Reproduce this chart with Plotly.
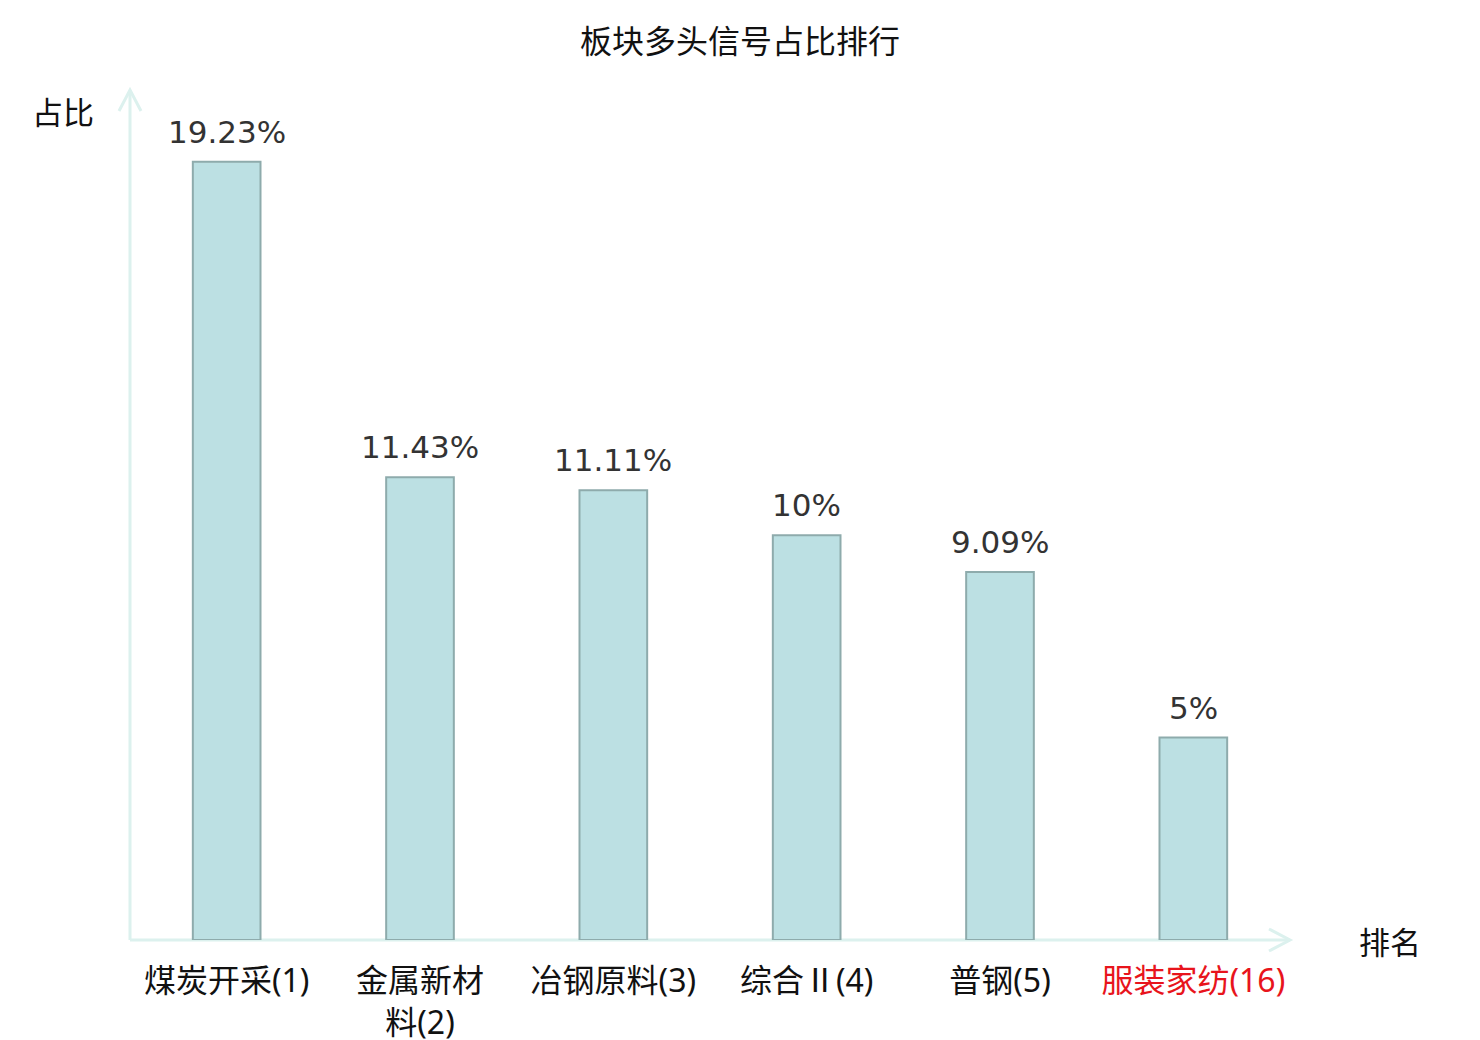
import plotly.graph_objects as go

categories = ["煤炭开采(1)", "金属新材<br>料(2)", "冶钢原料(3)", "综合Ⅱ(4)", "普钢(5)", "服装家纺(16)"]
values = [19.23, 11.43, 11.11, 10.0, 9.09, 5.0]
value_labels = ["19.23%", "11.43%", "11.11%", "10%", "9.09%", "5%"]
highlight = [False, False, False, False, False, True]

W, H = 1480, 1040
OFF = 8  # page body margin
ML, MR, MT, MB = 130 - OFF, 190 + OFF, 90 - OFF, 100 + OFF
PW, PH = W - ML - MR, H - MT - MB

ticktext = [
    f"<span style='color:#e8141c'>{c}</span>" if h else c
    for c, h in zip(categories, highlight)
]
xs = list(range(len(categories)))

fig = go.Figure(
    go.Bar(
        x=xs,
        y=values,
        width=0.35,
        marker=dict(color="#bce0e3", line=dict(color="#8eabac", width=2)),
        hoverinfo="skip",
    )
)

for xi, v, lab in zip(xs, values, value_labels):
    fig.add_annotation(x=xi, y=v, text=lab, showarrow=False,
                       xanchor="center", yanchor="bottom", yshift=10,
                       font=dict(family="DejaVu Sans", size=31, color="#333333"))

axis_color = "#dcf1ee"
fig.update_layout(
    width=W,
    height=H,
    margin=dict(l=ML, r=MR, t=MT, b=MB, autoexpand=False),
    plot_bgcolor="white",
    paper_bgcolor="white",
    showlegend=False,
    title=dict(
        text="板块多头信号占比排行",
        x=(740 - OFF) / W,
        xref="container",
        xanchor="center",
        y=1 - (42 - OFF) / H,
        yref="container",
        yanchor="middle",
        font=dict(family="Noto Sans CJK SC", size=32, color="#111111"),
    ),
    font=dict(family="Noto Sans CJK SC"),
    xaxis=dict(
        range=[-0.5, len(categories) - 0.5],
        tickvals=xs,
        ticktext=ticktext,
        showgrid=False,
        zeroline=False,
        showline=False,
        ticks="",
        automargin=False,
        ticklabelstandoff=19,
        tickfont=dict(family="Noto Sans, Noto Sans CJK SC", size=32, color="#111111"),
        fixedrange=True,
    ),
    yaxis=dict(
        range=[0, 21],
        showgrid=False,
        zeroline=False,
        showline=False,
        showticklabels=False,
        ticks="",
        automargin=False,
        fixedrange=True,
    ),
)

ax = 21 / PW
ay = 11 / PH
bx = 11 / PW
by = 21 / PH
line = dict(color=axis_color, width=3)
fig.add_shape(type="line", xref="paper", yref="paper", x0=0, y0=0, x1=1, y1=0, line=line, layer="below")
fig.add_shape(type="line", xref="paper", yref="paper", x0=0, y0=0, x1=0, y1=1, line=line, layer="below")
fig.add_shape(type="path", xref="paper", yref="paper",
              path=f"M {1-ax},{ay} L 1,0 L {1-ax},{-ay}", line=line)
fig.add_shape(type="path", xref="paper", yref="paper",
              path=f"M {-bx},{1-by} L 0,1 L {bx},{1-by}", line=line)

fig.add_annotation(text="占比", xref="paper", yref="paper",
                   x=(63 - 130) / PW, y=(940 - 110) / PH,
                   showarrow=False, xanchor="center", yanchor="middle",
                   font=dict(family="Noto Sans CJK SC", size=31, color="#111111"))
fig.add_annotation(text="排名", xref="paper", yref="paper",
                   x=(1390 - 130) / PW, y=0,
                   showarrow=False, xanchor="center", yanchor="middle",
                   font=dict(family="Noto Sans CJK SC", size=31, color="#111111"))

fig.write_html("out.html")
